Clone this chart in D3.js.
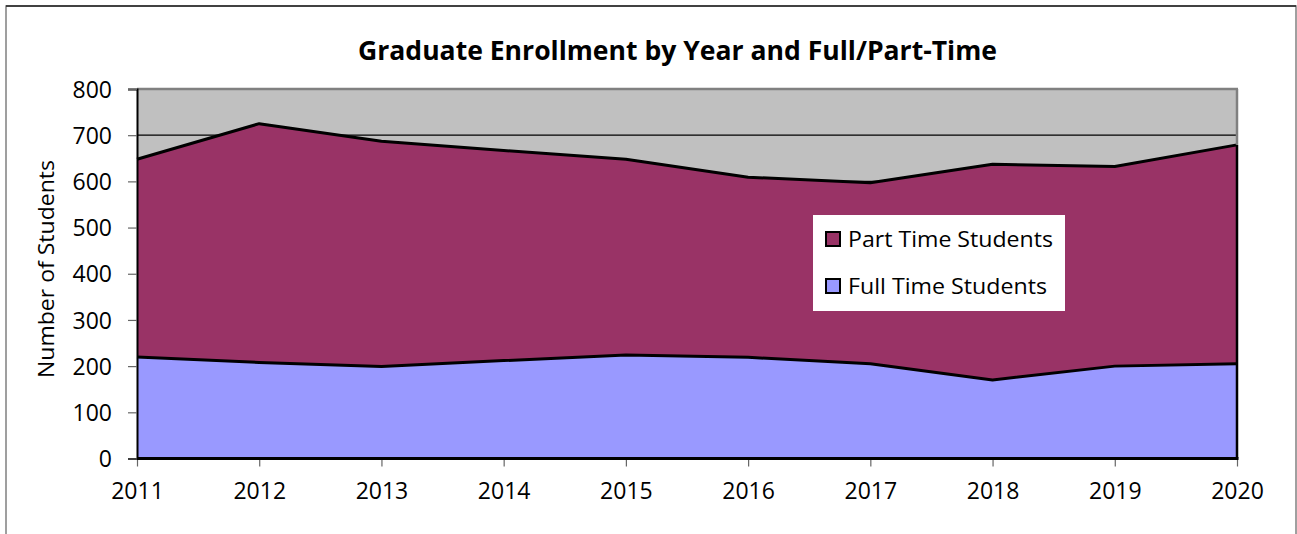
<!DOCTYPE html>
<html>
<head>
<meta charset="utf-8">
<script src="https://cdn.jsdelivr.net/npm/d3@7"></script>
<style>
  html, body { margin: 0; padding: 0; background: #fff; }
  svg { display: block; }
  text { font-family: "Open Sans", "DejaVu Sans", sans-serif; fill: #000; }
</style>
</head>
<body>
<svg id="chart" width="1297" height="534"></svg>
<script>
const years = ["2011","2012","2013","2014","2015","2016","2017","2018","2019","2020"];
const fullTime = [220, 208, 199, 212, 224, 219, 205, 170, 200, 205];
const partTime = [428, 517, 488, 455, 424, 390, 392, 467, 432, 474];
const yTicks = [0, 100, 200, 300, 400, 500, 600, 700, 800];
const seriesNames = ["Full Time Students", "Part Time Students"];
const seriesColors = ["#9999FF", "#993366"];

const svg = d3.select("#chart");
const m = { left: 137, right: 1237, top: 89, bottom: 458.5 };

// outer chart border
svg.append("rect").attr("x", 6).attr("y", 6).attr("width", 1290).attr("height", 560)
  .attr("fill", "#fff").attr("stroke", "#808080").attr("stroke-width", 1.5);
svg.append("line").attr("x1", 6).attr("x2", 1296).attr("y1", 6).attr("y2", 6)
  .attr("stroke", "#222").attr("stroke-width", 1.5);

const x = d3.scalePoint().domain(years).range([m.left, m.right]);
const y = d3.scaleLinear().domain([0, 800]).range([m.bottom, m.top]);

// plot background
svg.append("rect").attr("x", m.left).attr("y", m.top)
  .attr("width", m.right - m.left).attr("height", m.bottom - m.top)
  .attr("fill", "#C0C0C0");

// gridlines
svg.append("g").selectAll("line").data(yTicks.filter(d => d > 0 && d < 800)).join("line")
  .attr("x1", m.left).attr("x2", m.right)
  .attr("y1", d => y(d)).attr("y2", d => y(d))
  .attr("stroke", "#000").attr("stroke-width", 1.2);

// stacked areas
const rows = years.map((yr, i) => ({ year: yr, full: fullTime[i], part: partTime[i] }));
const stack = d3.stack().keys(["full", "part"]);
const layers = stack(rows);

const area = d3.area().x(d => x(d.data.year)).y0(d => y(d[0])).y1(d => y(d[1]));
const topLine = d3.line().x(d => x(d.data.year)).y(d => y(d[1]));

const order = [1, 0];
order.forEach(i => {
  svg.append("path").datum(layers[i]).attr("d", area)
    .attr("fill", seriesColors[i]).attr("stroke", "none");
});
order.forEach(i => {
  svg.append("path").datum(layers[i]).attr("d", topLine)
    .attr("fill", "none").attr("stroke", "#000").attr("stroke-width", 3)
    .attr("stroke-linejoin", "round");
});

// plot area border (top & right grey)
svg.append("line").attr("x1", m.left).attr("x2", m.right + 1).attr("y1", m.top).attr("y2", m.top)
  .attr("stroke", "#808080").attr("stroke-width", 2.5);
svg.append("line").attr("x1", m.right).attr("x2", m.right).attr("y1", m.top).attr("y2", y(fullTime[9] + partTime[9]))
  .attr("stroke", "#808080").attr("stroke-width", 2.5);
svg.append("line").attr("x1", m.right).attr("x2", m.right)
  .attr("y1", y(fullTime[9] + partTime[9])).attr("y2", m.bottom)
  .attr("stroke", "#000").attr("stroke-width", 2.5);

// y axis
const yAxis = d3.axisLeft(y).tickValues(yTicks).tickSize(9).tickPadding(16);
const gy = svg.append("g").attr("transform", `translate(${m.left},0)`).call(yAxis);
gy.select(".domain").attr("stroke", "#000").attr("stroke-width", 2);
gy.selectAll(".tick line").attr("stroke", "#666").attr("stroke-width", 1.2);
gy.selectAll(".tick text").attr("font-size", 23).attr("font-family", "'Open Sans', sans-serif")
  .attr("fill", "#000").attr("dy", "0.35em");

// x axis
const xAxis = d3.axisBottom(x).tickSize(8).tickPadding(16);
const gx = svg.append("g").attr("transform", `translate(0,${m.bottom})`).call(xAxis);
gx.select(".domain").remove();
gx.selectAll(".tick line").attr("stroke", "#666").attr("stroke-width", 1.2);
gx.selectAll(".tick text").attr("font-size", 23).attr("font-family", "'Open Sans', sans-serif")
  .attr("fill", "#000");
svg.append("line").attr("x1", m.left).attr("x2", m.right + 1.5).attr("y1", m.bottom).attr("y2", m.bottom)
  .attr("stroke", "#000").attr("stroke-width", 3);

// title
svg.append("text").attr("x", 677.5).attr("y", 60).attr("text-anchor", "middle")
  .attr("font-size", 27).attr("font-weight", "bold")
  .attr("textLength", 639).attr("lengthAdjust", "spacingAndGlyphs")
  .text("Graduate Enrollment by Year and Full/Part-Time");

// y axis title
svg.append("text").attr("transform", "translate(54,269) rotate(-90)")
  .attr("text-anchor", "middle").attr("font-size", 22)
  .attr("textLength", 218).attr("lengthAdjust", "spacingAndGlyphs")
  .text("Number of Students");

// legend
const lg = svg.append("g");
lg.append("rect").attr("x", 813).attr("y", 215).attr("width", 252).attr("height", 96).attr("fill", "#fff");
const legendItems = [
  { name: seriesNames[1], color: seriesColors[1], y: 247, w: 205 },
  { name: seriesNames[0], color: seriesColors[0], y: 294, w: 199 }
];
legendItems.forEach(it => {
  lg.append("rect").attr("x", 826).attr("y", it.y - 15).attr("width", 14).attr("height", 14)
    .attr("fill", it.color).attr("stroke", "#000").attr("stroke-width", 2);
  lg.append("text").attr("x", 848).attr("y", it.y).attr("font-size", 22)
    .attr("textLength", it.w).attr("lengthAdjust", "spacingAndGlyphs").text(it.name);
});
</script>
</body>
</html>
